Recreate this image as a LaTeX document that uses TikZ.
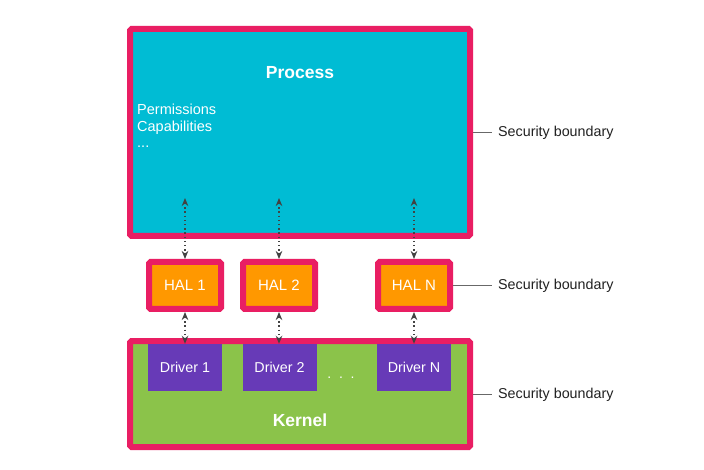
\documentclass[tikz,border=0pt]{standalone}
\usepackage{fontspec}
\setmainfont{Liberation Sans}
\usetikzlibrary{arrows.meta}
\definecolor{bpink}{HTML}{E91E63}
\definecolor{bcyan}{HTML}{00BCD4}
\definecolor{borange}{HTML}{FF9800}
\definecolor{bpurple}{HTML}{673AB7}
\definecolor{bgreen}{HTML}{8BC34A}
\definecolor{darrow}{HTML}{424242}
\definecolor{dtext}{HTML}{212121}
\tikzset{
  bound/.style={draw=bpink, line width=6pt, rounded corners=1.5pt, inner sep=0pt},
  halbox/.style={bound, fill=borange, minimum width=72pt, minimum height=47pt, text=white, font=\fontsize{15}{17}\selectfont},
  drvbox/.style={fill=bpurple, minimum width=74pt, minimum height=47pt, inner sep=0pt, text=white, font=\fontsize{14.3}{17}\selectfont},
  title/.style={text=white, font=\bfseries\fontsize{17.5}{20}\selectfont, inner sep=0pt},
  wtext/.style={text=white, font=\fontsize{14.5}{17}\selectfont, inner sep=0pt, anchor=base west},
  seclabel/.style={text=dtext, font=\fontsize{14.3}{17}\selectfont, anchor=west, inner xsep=6pt, inner ysep=0pt},
  secline/.style={draw=darrow!80, line width=0.8pt},
  dtip/.style={Stealth[length=8pt,width=6.5pt,inset=2.5pt]},
  dotarrow/.style={draw=darrow, line width=1.4pt, dash pattern=on 1.4pt off 2.8pt, {Stealth[length=8pt,width=6.5pt,inset=2.5pt]}-{Stealth[length=8pt,width=6.5pt,inset=2.5pt]}},
}
\begin{document}
\begin{tikzpicture}[x=1pt,y=-1pt]
\useasboundingbox (0,0) rectangle (704,470);
\fill[white] (0,0) rectangle (704,470);
% Process
\node[bound, fill=bcyan, minimum width=340pt, minimum height=207pt] (proc) at (300,132.5) {};
\node[title] (proctitle) at (300,73) {Process};
\node[wtext] (perm) at (137,115) {Permissions};
\node[wtext] (capa) at (137,132) {Capabilities};
\node[wtext] (pdots) at (137,148) {...};
% HALs
\node[halbox] (hal1) at (185,285.5) {HAL 1};
\node[halbox] (hal2) at (279,285.5) {HAL 2};
\node[halbox] (haln) at (414,285.5) {HAL N};
% Kernel
\node[bound, fill=bgreen, minimum width=340pt, minimum height=106pt] (kern) at (300,394) {};
\node[drvbox] (drv1) at (185,367.5) {Driver 1};
\node[drvbox] (drv2) at (279.5,367.5) {Driver 2};
\node[drvbox] (drvn) at (414,367.5) {Driver N};
\node[text=white, font=\fontsize{14}{17}\selectfont, inner sep=0pt, anchor=base] (kdots) at (341,378) {.\ \ .\ \ .};
\node[title] (kerntitle) at (300,420) {Kernel};
% arrows
\coordinate (p1) at (185,198);
\coordinate (p2) at (279,198);
\coordinate (pn) at (414,198);
\draw[dotarrow] (p1) -- (hal1.north);
\draw[dotarrow] (p2) -- (hal2.north);
\draw[dotarrow] (pn) -- (haln.north);
\draw[dotarrow] (hal1.south) -- (drv1.north);
\draw[dotarrow] (hal2.south) -- (drv2.north -| hal2.south);
\draw[dotarrow] (haln.south) -- (drvn.north);
% security boundaries
\node[seclabel] (sec1) at (492,133) {Security boundary};
\node[seclabel] (sec2) at (492,286) {Security boundary};
\node[seclabel] (sec3) at (492,395) {Security boundary};
\draw[secline] (proc.east) -- (proc.east -| sec1.west);
\draw[secline] (haln.east) -- (haln.east -| sec2.west);
\draw[secline] (kern.east) -- (kern.east -| sec3.west);
\end{tikzpicture}
\end{document}
